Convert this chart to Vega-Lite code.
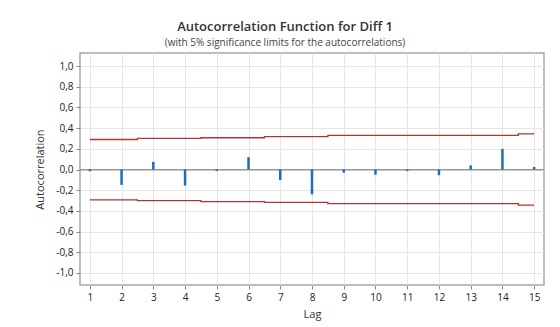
{
  "$schema": "https://vega.github.io/schema/vega-lite/v6.json",
  "autosize": {"type": "none"},
  "width": 464,
  "height": 232,
  "padding": {"left": 80, "top": 53, "right": 16, "bottom": 42},
  "background": "white",
  "config": {
    "font": "Open Sans",
    "view": {"stroke": "#a8a8a8", "strokeWidth": 1.5},
    "axis": {"labelColor": "#222", "titleColor": "#333", "labelFontSize": 10, "titleFontSize": 11, "titleFontWeight": "normal", "gridColor": "#e6e6e6", "tickColor": "#888", "domain": false, "labelOverlap": false}
  },
  "title": {
    "text": "Autocorrelation Function for Diff 1",
    "subtitle": "(with 5% significance limits for the autocorrelations)",
    "fontSize": 13,
    "fontWeight": 600,
    "color": "#333",
    "subtitleFontSize": 10,
    "subtitleColor": "#444",
    "subtitlePadding": 4,
    "anchor": "middle",
    "dx": -27,
    "offset": 5
  },
  "data": {
    "values": [
      {"lag": 1, "acf": -0.016, "upper": 0.29, "lower": -0.293},
      {"lag": 2, "acf": -0.148, "upper": 0.29, "lower": -0.293},
      {"lag": 3, "acf": 0.074, "upper": 0.30, "lower": -0.30},
      {"lag": 4, "acf": -0.155, "upper": 0.30, "lower": -0.30},
      {"lag": 5, "acf": -0.015, "upper": 0.307, "lower": -0.31},
      {"lag": 6, "acf": 0.119, "upper": 0.307, "lower": -0.31},
      {"lag": 7, "acf": -0.103, "upper": 0.318, "lower": -0.318},
      {"lag": 8, "acf": -0.24, "upper": 0.318, "lower": -0.318},
      {"lag": 9, "acf": -0.03, "upper": 0.33, "lower": -0.33},
      {"lag": 10, "acf": -0.05, "upper": 0.33, "lower": -0.33},
      {"lag": 11, "acf": -0.015, "upper": 0.33, "lower": -0.33},
      {"lag": 12, "acf": -0.055, "upper": 0.33, "lower": -0.33},
      {"lag": 13, "acf": 0.04, "upper": 0.33, "lower": -0.33},
      {"lag": 14, "acf": 0.20, "upper": 0.33, "lower": -0.33},
      {"lag": 15, "acf": 0.026, "upper": 0.345, "lower": -0.345}
    ]
  },
  "encoding": {
    "x": {
      "field": "lag", "type": "quantitative",
      "scale": {"domain": [0.69, 15.31], "nice": false, "zero": false},
      "axis": {"values": [1,2,3,4,5,6,7,8,9,10,11,12,13,14,15], "title": "Lag", "tickSize": 4, "labelPadding": 3, "titlePadding": 6, "grid": true, "labelOverlap": false}
    },
    "y": {
      "field": "upper", "type": "quantitative",
      "scale": {"domain": [-1.116, 1.126], "nice": false},
      "axis": {"values": [-1, -0.8, -0.6, -0.4, -0.2, 0, 0.2, 0.4, 0.6, 0.8, 1], "format": ".1f", "labelExpr": "replace(replace(datum.label, '.', ','), '\u2212', '-')", "title": "Autocorrelation", "tickSize": 4, "labelPadding": 3, "titlePadding": 10, "grid": true, "labelOverlap": false, "labelBound": false}
    }
  },
  "layer": [
    {
      "mark": {"type": "rule", "color": "#999", "strokeWidth": 1},
      "encoding": {"y": {"datum": 0, "type": "quantitative"}, "x": null}
    },
    {
      "mark": {"type": "line", "color": "#b03535", "strokeWidth": 1.3, "interpolate": "step"},
      "encoding": {}
    },
    {
      "mark": {"type": "line", "color": "#b03535", "strokeWidth": 1.3, "interpolate": "step"},
      "encoding": {"y": {"field": "lower", "type": "quantitative"}}
    },
    {
      "mark": {"type": "rule", "color": "#1f6cb8", "strokeWidth": 2.5},
      "encoding": {"y": {"field": "acf", "type": "quantitative"}, "y2": {"datum": 0}}
    }
  ]
}
